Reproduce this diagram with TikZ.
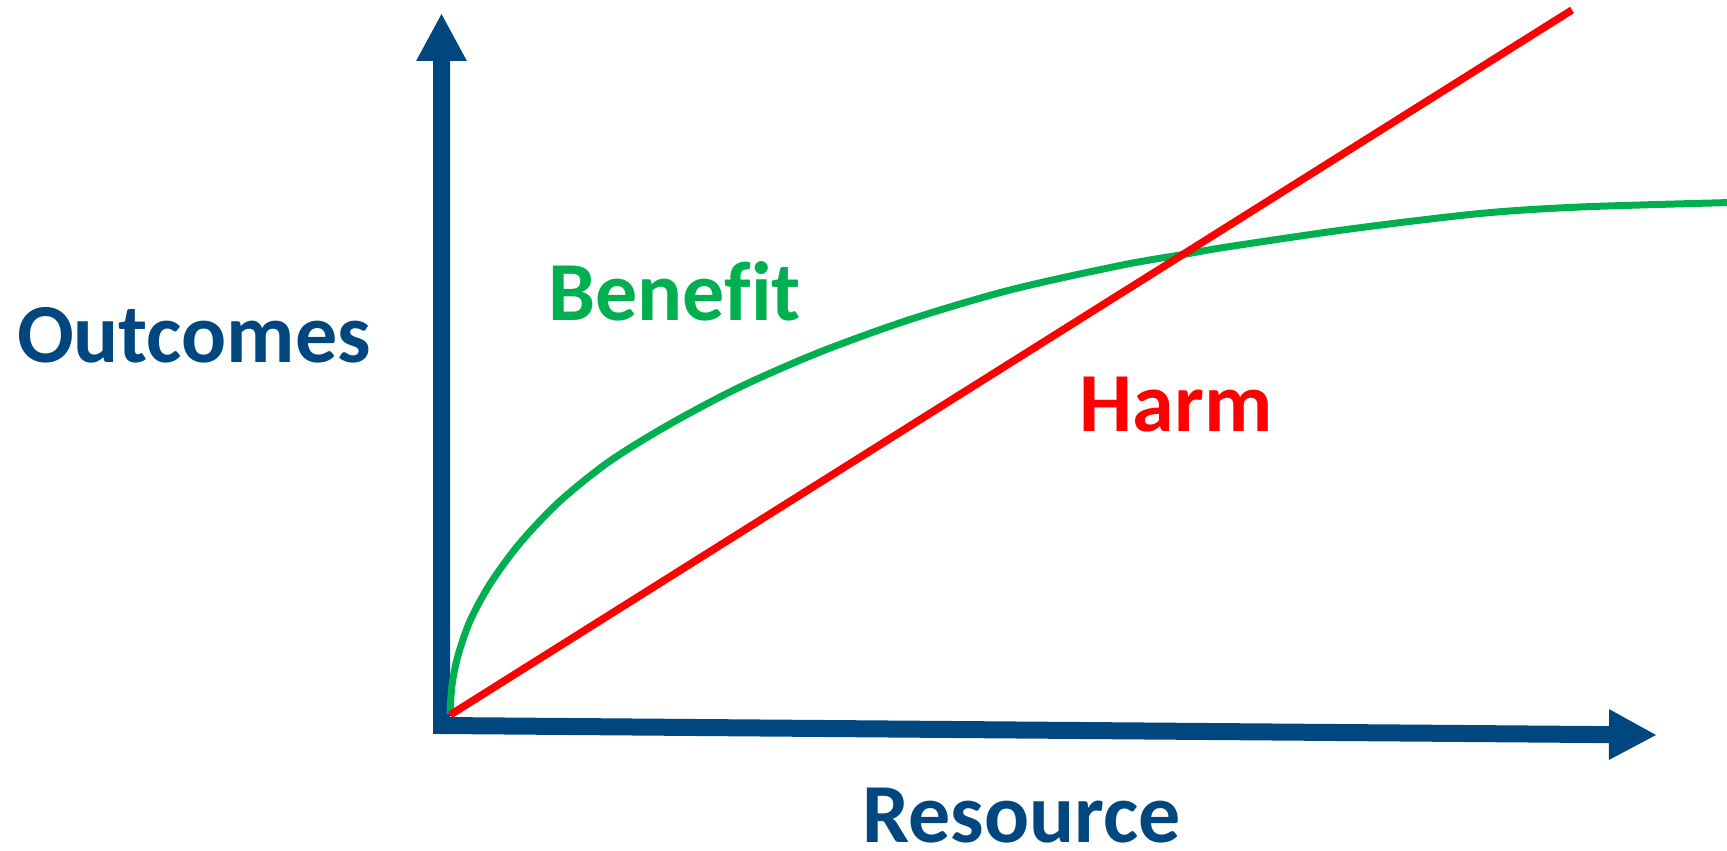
\documentclass[tikz,border=0pt]{standalone}
\usepackage{fontspec}
\setmainfont{Carlito}[Ligatures={NoCommon}]
\usetikzlibrary{arrows.meta}
\definecolor{axisblue}{RGB}{0,70,127}
\definecolor{bgreen}{RGB}{0,176,80}
\definecolor{hred}{RGB}{255,0,0}
\tikzset{
  axisline/.style={draw=axisblue, line width=17pt, line join=miter,
    {Triangle[length=48pt,width=47pt]}-{Triangle[length=48pt,width=47pt]}},
  benefitcurve/.style={draw=bgreen, line width=7pt},
  harmline/.style={draw=hred, line width=7.5pt},
  label/.style={inner sep=0pt, anchor=base, text depth=0pt,
    font=\fontsize{84}{100}\selectfont\bfseries}
}
\begin{document}
\begin{tikzpicture}[x=1pt,y=-1pt]
\useasboundingbox (0,0) rectangle (1727,851);
\coordinate (ytip) at (441.5,13);
\coordinate (corner) at (441.5,725.5);
\coordinate (xtip) at (1657,735);
\coordinate (hstart) at (450,715);
\coordinate (hend) at (1572,10);
\draw[axisline] (ytip) -- (corner) -- (xtip);
\draw[benefitcurve] plot[smooth, tension=0.5] coordinates {
 (450,714) (452,685) (458,655.5) (470,621) (490,584) (520,543) (560,501)
 (610,461) (670,424) (740,387) (820,352) (910,319.5) (1010,290)
 (1120,265.5) (1186,254) (1230,246.5) (1350,229) (1480,213.5) (1580,207)
 (1727,202.6)};
\draw[harmline] (hstart) -- (hend);
\node[label, text=axisblue] (outcomes) at (194,362) {Outcomes};
\node[label, text=axisblue] (resource) at (1021.5,842) {Resource};
\node[label, text=bgreen] (benefit) at (674.7,320.7) {Benef\kern0pt it};
\node[label, text=hred] (harm) at (1176.3,431.7) {Harm};
\end{tikzpicture}
\end{document}
